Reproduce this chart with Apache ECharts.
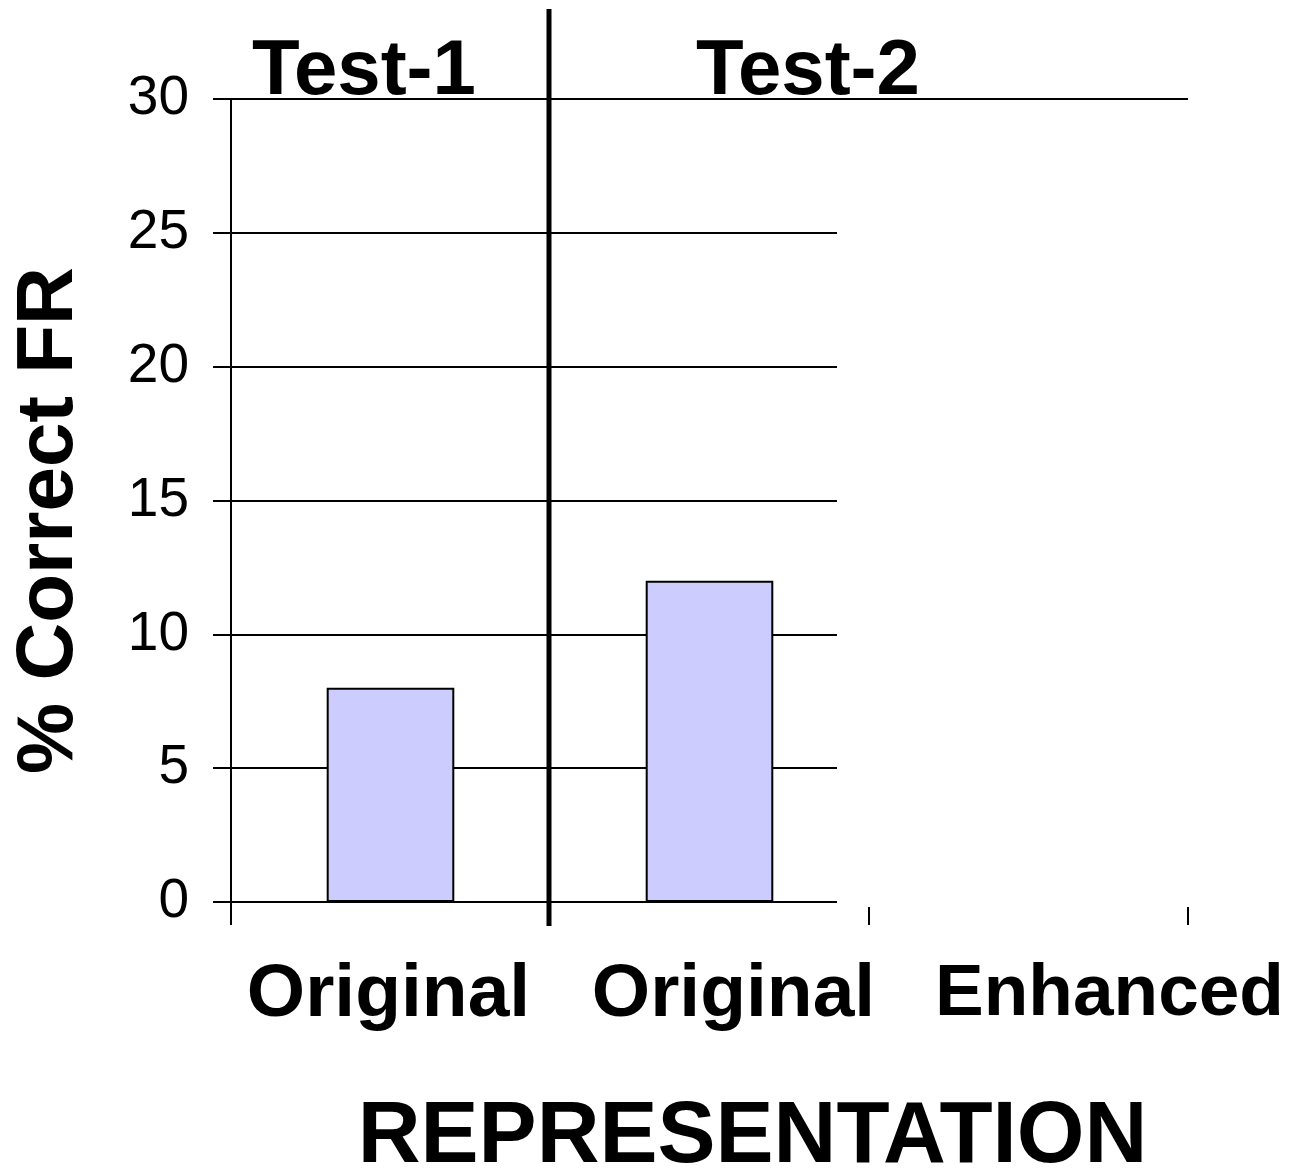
<!DOCTYPE html>
<html>
<head>
<meta charset="utf-8">
<title>% Correct FR by Representation</title>
<script src="https://cdn.jsdelivr.net/npm/echarts@6/dist/echarts.min.js"></script>
<style>
  html, body { margin: 0; padding: 0; background: #fff; }
  #chart { width: 1296px; height: 1175px; }
</style>
</head>
<body>
<div id="chart"></div>
<script>
// Categories along the representation axis
const categories = ['Original', 'Original', 'Enhanced'];
// Percent of correct free recall per category (Enhanced not shown yet)
const correctFR = [8, 12, null];
// Test phase headings
const testLabels = ['Test-1', 'Test-2'];
// Value axis range
const yMin = 0, yMax = 30, yStep = 5;

const FONT = '"Liberation Sans", Arial, Helvetica, sans-serif';

// Horizontal offsets of each category label relative to its slot centre
const labelShift = [-2, 24, 81];
const rich = {};
labelShift.forEach((s, i) => {
  rich['c' + i] = {
    fontFamily: FONT, fontWeight: 'bold', fontSize: i === 2 ? 73 : 75, color: '#000',
    padding: s >= 0 ? [0, 0, 0, 2 * s] : [0, -2 * s, 0, 0]
  };
});

const chart = echarts.init(document.getElementById('chart'), null, { renderer: 'canvas' });

const option = {
  animation: false,
  backgroundColor: '#ffffff',
  grid: { left: 231, right: 108, top: 99, bottom: 273, outerBoundsMode: 'none' },
  xAxis: {
    type: 'category',
    data: categories,
    name: 'REPRESENTATION',
    nameLocation: 'middle',
    nameGap: 193,
    nameTextStyle: {
      fontFamily: FONT, fontWeight: 'bold', fontSize: 87, color: '#000',
      padding: [0, 0, 0, 86]
    },
    axisLine: { show: true, lineStyle: { color: '#000', width: 2 } },
    axisTick: { show: true, alignWithLabel: false, length: 23, lineStyle: { color: '#000', width: 2 } },
    axisLabel: {
      interval: 0,
      hideOverlap: false,
      margin: 56,
      formatter: (v, i) => '{c' + i + '|' + v + '}',
      rich: rich
    },
    splitLine: { show: false }
  },
  yAxis: {
    type: 'value',
    min: yMin, max: yMax, interval: yStep,
    name: '% Correct FR',
    nameLocation: 'middle',
    nameRotate: 90,
    nameGap: 141,
    nameTextStyle: {
      fontFamily: FONT, fontWeight: 'bold', fontSize: 80, color: '#000',
      padding: [0, 40, 0, 0]
    },
    axisLine: { show: true, lineStyle: { color: '#000', width: 2 } },
    axisTick: { show: true, length: 18, lineStyle: { color: '#000', width: 2 } },
    axisLabel: { fontFamily: FONT, fontSize: 55, color: '#000', margin: 42 },
    splitLine: { show: true, lineStyle: { color: '#000', width: 2 } }
  },
  series: [{
    type: 'bar',
    data: correctFR,
    barWidth: '40%',
    itemStyle: { color: '#CCCCFF', borderColor: '#000', borderWidth: 2 },
    z: 3
  }],
  graphic: [
    // white panel that keeps the third slot blank
    { type: 'rect', z: 100, shape: { x: 837, y: 102, width: 400, height: 805 },
      style: { fill: '#ffffff' } },
    // divider between the two test phases
    { type: 'line', z: 101, shape: { x1: 549, y1: 9, x2: 549, y2: 926 },
      style: { stroke: '#000', lineWidth: 5 } },
    { type: 'text', z: 102, x: 364, y: 72,
      style: { text: testLabels[0], font: 'bold 78px ' + FONT, fill: '#000',
               align: 'center', verticalAlign: 'middle' } },
    { type: 'text', z: 102, x: 808, y: 72,
      style: { text: testLabels[1], font: 'bold 78px ' + FONT, fill: '#000',
               align: 'center', verticalAlign: 'middle' } }
  ]
};

chart.setOption(option);
</script>
</body>
</html>
